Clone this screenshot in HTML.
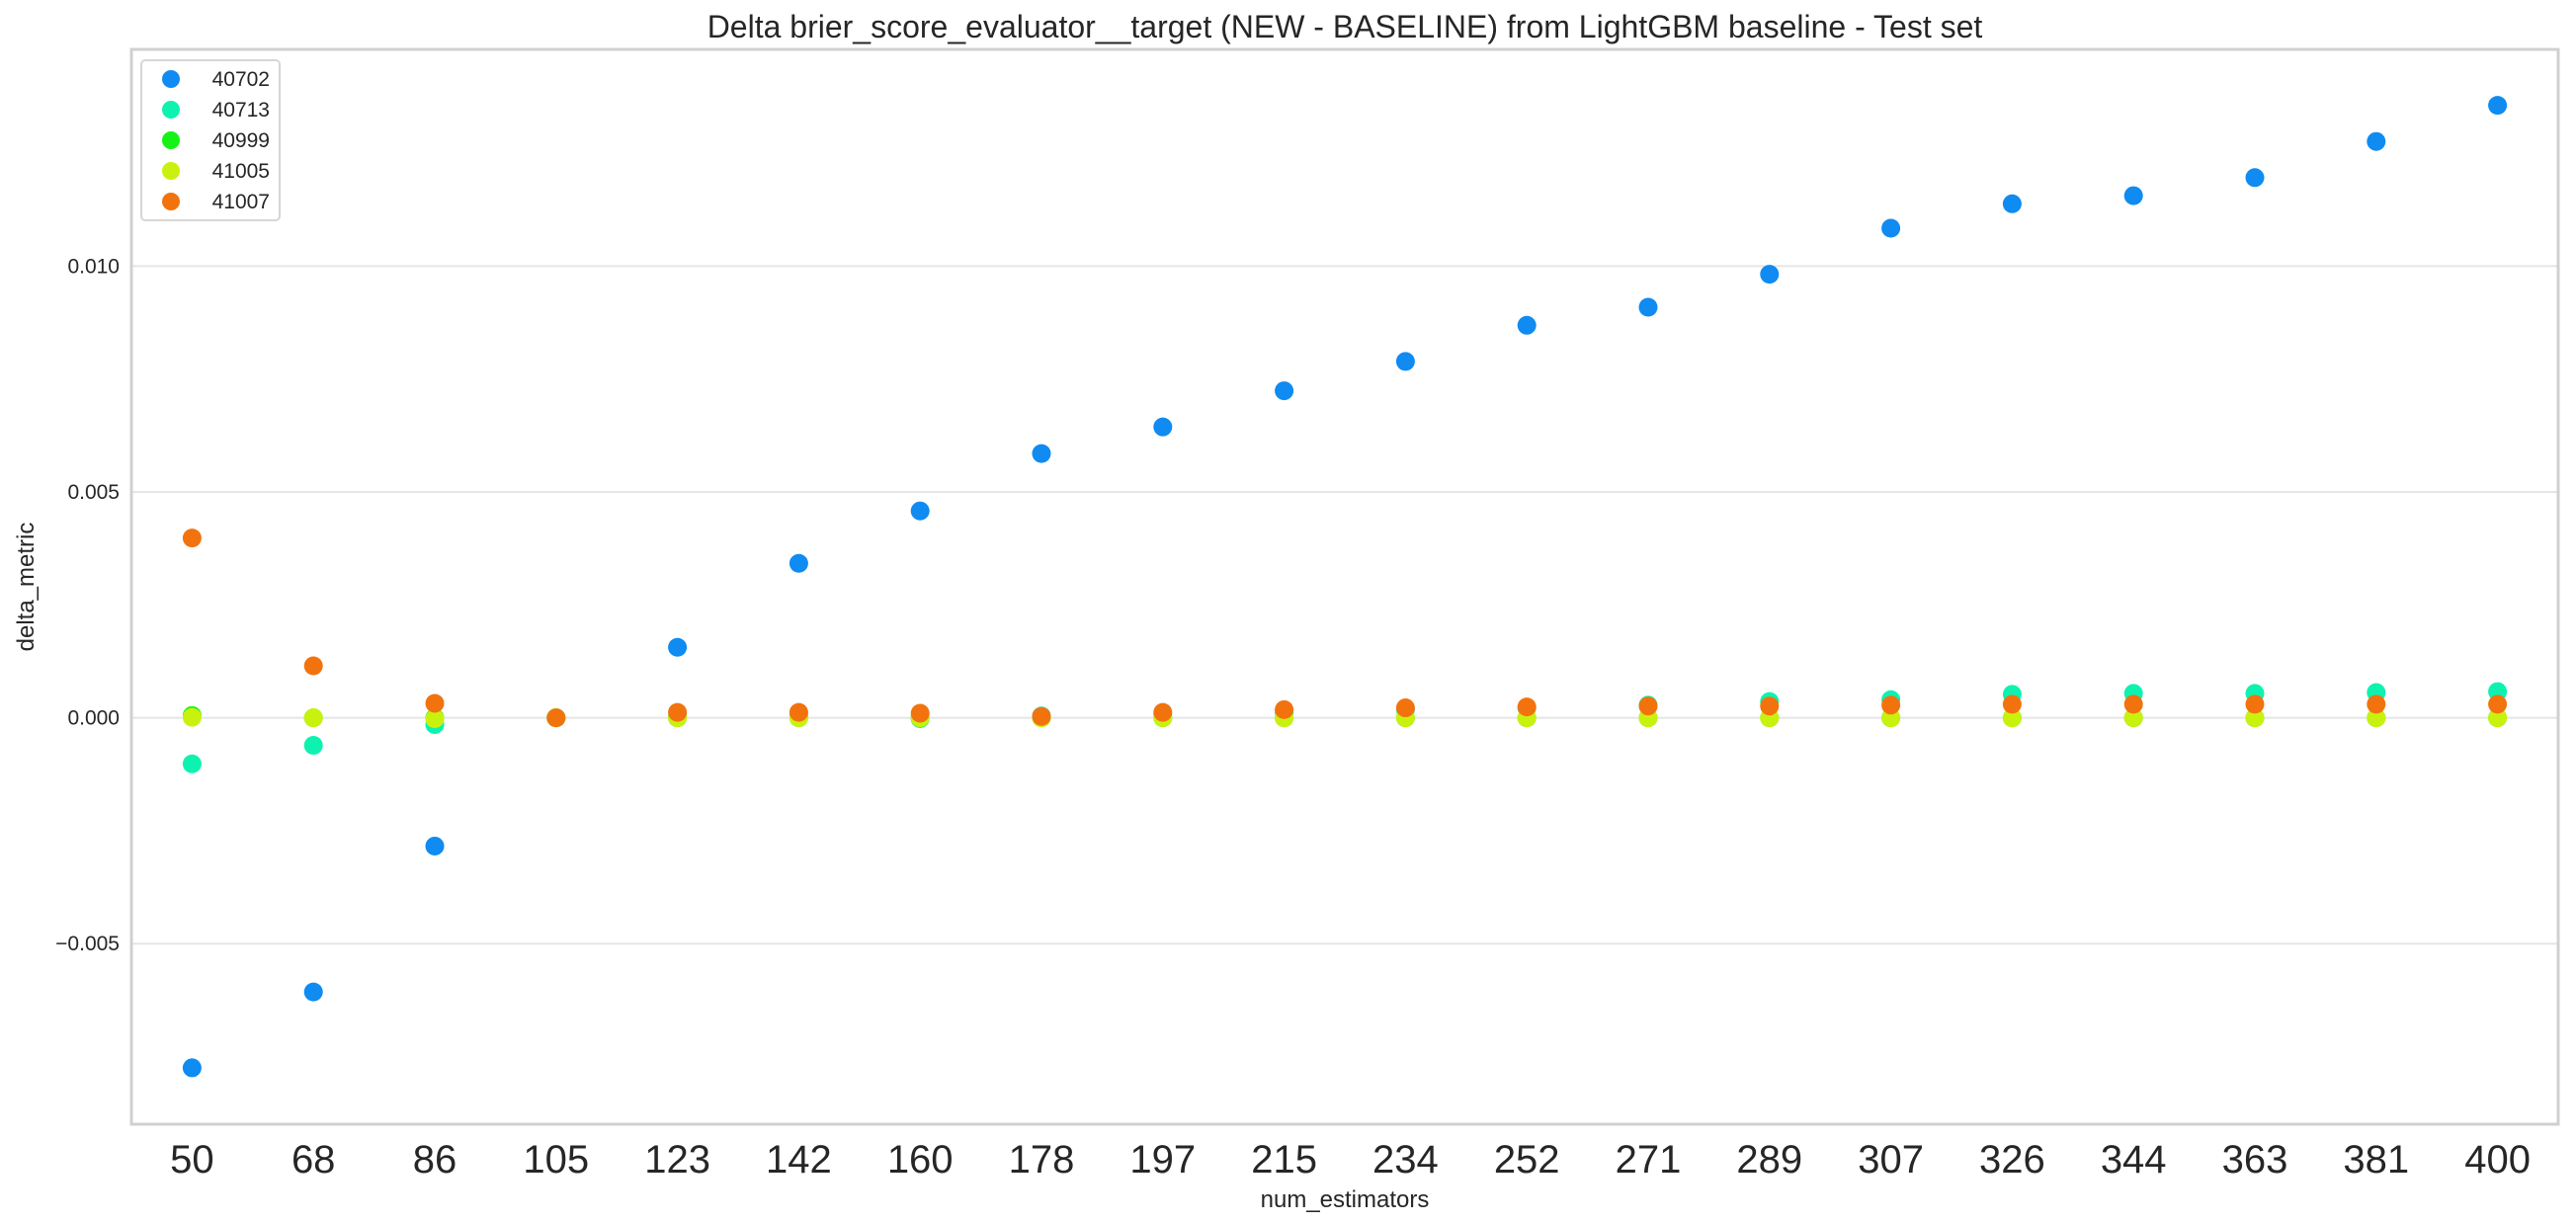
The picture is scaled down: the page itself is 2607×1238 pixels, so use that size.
<!DOCTYPE html>
<html><head><meta charset="utf-8"><style>
html,body{margin:0;padding:0;background:#fff;}
svg{display:block;font-family:"Liberation Sans",Arial,sans-serif;}
</style></head><body>
<svg id="chart" width="2607" height="1238" viewBox="0 0 2607 1238">
<text x="1361" y="38" font-size="32" text-anchor="middle" fill="#262626">Delta brier_score_evaluator__target (NEW - BASELINE) from LightGBM baseline - Test set</text>
<g id="grid"></g>
<g id="yticks"></g>
<g id="xticks"></g>
<g id="marks"></g>
<rect x="133" y="50" width="2456" height="1088" fill="none" stroke="#d0d0d0" stroke-width="3"/>
<text x="1361" y="1222" font-size="24" text-anchor="middle" fill="#262626">num_estimators</text>
<text transform="translate(34,594) rotate(-90)" font-size="24" text-anchor="middle" fill="#262626">delta_metric</text>
<g id="legend"></g>
</svg>
<script>
const categories=[50,68,86,105,123,142,160,178,197,215,234,252,271,289,307,326,344,363,381,400];
const seriesNames=["40702","40713","40999","41005","41007"];
const seriesColors=["#0f8bf2","#0ef2b0","#16f214","#c8f20e","#f2730e"];
const s40702=[-0.00775,-0.00607,-0.00284,0,0.00156,0.00342,0.00458,0.00585,0.00644,0.00724,0.00789,0.00869,0.00909,0.00982,0.01084,0.01138,0.01156,0.01196,0.01276,0.01356];
const s40713=[-0.00102,-0.00061,-0.00015,0,0.00003,0.00005,-0.00002,0.00004,0.00008,0.00012,0.00018,0.00022,0.00028,0.00036,0.0004,0.00052,0.00054,0.00054,0.00056,0.00058];
const s40999=[0.00005,0,0,0,0,0,0,0,0,0,0,0,0,0,0,0,0,0,0,0];
const s41005=[0.00001,0,-0.00002,0,0,0,0,0,0,0,0,0,0,0,0,0,0,0,0,0];
const s41007=[0.00398,0.00115,0.00032,0,0.00012,0.00012,0.0001,0.00003,0.00012,0.00018,0.00022,0.00024,0.00026,0.00026,0.00028,0.0003,0.0003,0.0003,0.0003,0.0003];
const yTicks=[-0.005,0,0.005,0.010];
const yTickLabels=["\u22120.005","0.000","0.005","0.010"];

const NS="http://www.w3.org/2000/svg";
const L=133,R=2589,T=50,B=1138;
const y0px=726.6,pxPerUnit=228.6/0.005;
function yScale(v){return y0px-v*pxPerUnit;}
const step=(R-L)/categories.length;
function xScale(i){return L+step*(i+0.5);}
function mk(tag,attrs,parent){const e=document.createElementNS(NS,tag);for(const k in attrs)e.setAttribute(k,attrs[k]);parent.appendChild(e);return e;}

const grid=document.getElementById('grid'),yt=document.getElementById('yticks'),xt=document.getElementById('xticks'),marks=document.getElementById('marks'),leg=document.getElementById('legend');
yTicks.forEach((v,i)=>{
  const y=yScale(v);
  const g=mk('line',{x1:L,x2:R,y1:y,y2:y,stroke:'#e5e5e5','stroke-width':2},grid);
  
  
  const t=mk('text',{x:L-12,y:y+7,'font-size':21,'text-anchor':'end',fill:'#262626'},yt);
  t.textContent=yTickLabels[i];
  
  
});
categories.forEach((c,i)=>{
  const t=mk('text',{x:xScale(i),y:1187,'font-size':40,'text-anchor':'middle',fill:'#262626'},xt);
  t.textContent=c;
  
  
});
const allSeries=[s40702,s40713,s40999,s41005,s41007];
allSeries.forEach((s,si)=>{
  s.forEach((v,i)=>{
    const c=mk('circle',{cx:xScale(i),cy:yScale(v),r:9.5,fill:seriesColors[si]},marks);
    
    
  });
});
const box=mk('rect',{x:143,y:61,width:140,height:162,rx:4,fill:'#fff',stroke:'#d6d6d6','stroke-width':2},leg);


seriesNames.forEach((n,i)=>{
  const y=80+i*31;
  const c=mk('circle',{cx:173,cy:y,r:9,fill:seriesColors[i]},leg);
  
  
  const t=mk('text',{x:273,y:y+7,'font-size':21,'text-anchor':'end',fill:'#262626'},leg);
  t.textContent=n;
  
  
});
</script>
</body></html>
